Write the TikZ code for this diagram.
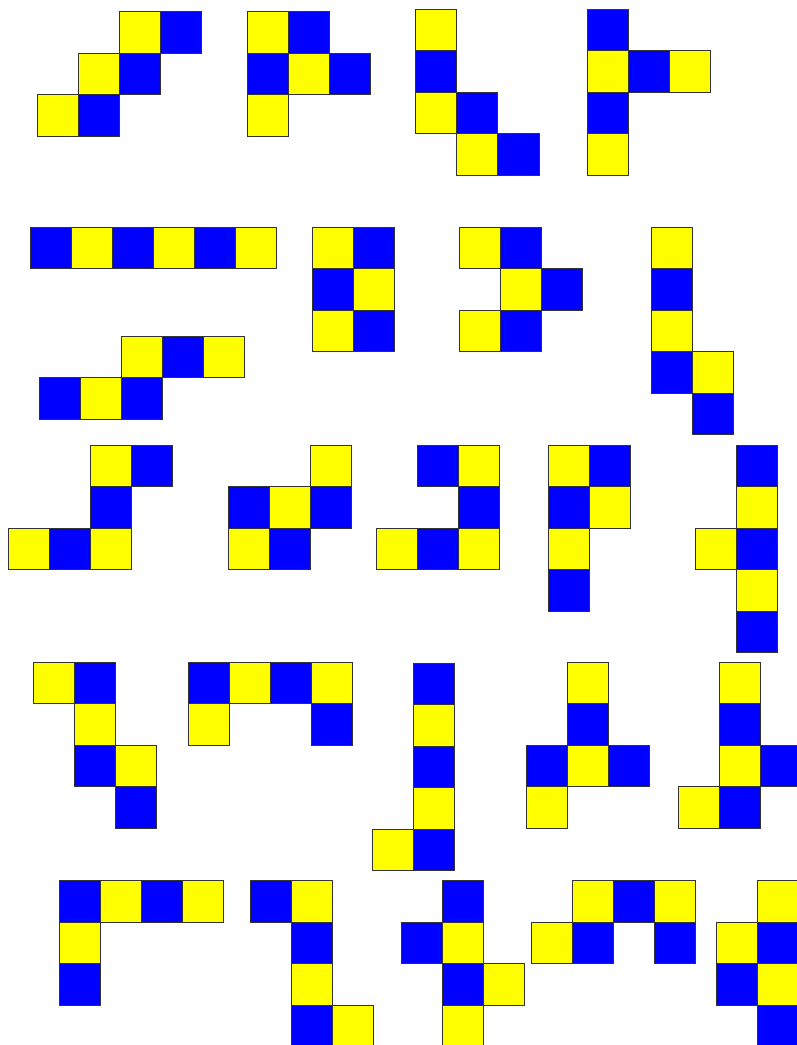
\documentclass[tikz,border=0pt]{standalone}
\usepackage{tikz}

\definecolor{yel}{RGB}{255,255,0}
\definecolor{blu}{RGB}{0,0,255}

% one net: origin x, origin y (px), list of col/row/colour
\newcommand\netshape[3]{%
  \foreach \cx/\cy/\cc in {#3} {
    \draw[sq, fill=\cc] ({#1+\cx*41.1},{#2+\cy*41.5}) rectangle ++(41.1,41.5);
  }%
}

\begin{document}
\begin{tikzpicture}[
  x=1pt, y=-1pt,
  sq/.style={draw=black!80, line width=1pt},
]
\useasboundingbox (0,0) rectangle (797,1045);
\clip (0,0) rectangle (797,1045);

% ---------- Row 1 ----------
\netshape{37.5}{11.7}{2/0/yel,3/0/blu,1/1/yel,2/1/blu,0/2/yel,1/2/blu}
\netshape{247.3}{11.7}{0/0/yel,1/0/blu,0/1/blu,1/1/yel,2/1/blu,0/2/yel}
\netshape{415.7}{9.3}{0/0/yel,0/1/blu,0/2/yel,1/2/blu,1/3/yel,2/3/blu}
\netshape{587.3}{9.3}{0/0/blu,0/1/yel,1/1/blu,2/1/yel,0/2/blu,0/3/yel}

% ---------- Row 2 ----------
\netshape{30}{227.3}{0/0/blu,1/0/yel,2/0/blu,3/0/yel,4/0/blu,5/0/yel}
\netshape{312.7}{227.3}{0/0/yel,1/0/blu,0/1/blu,1/1/yel,0/2/yel,1/2/blu}
\netshape{459.3}{227.3}{0/0/yel,1/0/blu,1/1/yel,2/1/blu,0/2/yel,1/2/blu}
\netshape{651.7}{227.3}{0/0/yel,0/1/blu,0/2/yel,0/3/blu,1/3/yel,1/4/blu}
\netshape{39.3}{336.3}{2/0/yel,3/0/blu,4/0/yel,0/1/blu,1/1/yel,2/1/blu}

% ---------- Row 3 ----------
\netshape{8}{445.3}{2/0/yel,3/0/blu,2/1/blu,0/2/yel,1/2/blu,2/2/yel}
\netshape{228.3}{445.3}{2/0/yel,0/1/blu,1/1/yel,2/1/blu,0/2/yel,1/2/blu}
\netshape{376}{445.3}{1/0/blu,2/0/yel,2/1/blu,0/2/yel,1/2/blu,2/2/yel}
\netshape{548.7}{445.3}{0/0/yel,1/0/blu,0/1/blu,1/1/yel,0/2/yel,0/3/blu}
\netshape{695.3}{445.3}{1/0/blu,1/1/yel,0/2/yel,1/2/blu,1/3/yel,1/4/blu}

% ---------- Row 4 ----------
\netshape{33}{662.3}{0/0/yel,1/0/blu,1/1/yel,1/2/blu,2/2/yel,2/3/blu}
\netshape{188.3}{662.3}{0/0/blu,1/0/yel,2/0/blu,3/0/yel,0/1/yel,3/1/blu}
\netshape{372.5}{663.3}{1/0/blu,1/1/yel,1/2/blu,1/3/yel,0/4/yel,1/4/blu}
\netshape{526}{662.3}{1/0/yel,1/1/blu,0/2/blu,1/2/yel,2/2/blu,0/3/yel}
\netshape{678.7}{662.3}{1/0/yel,1/1/blu,1/2/yel,2/2/blu,0/3/yel,1/3/blu}

% ---------- Row 5 ----------
\netshape{59}{880.7}{0/0/blu,1/0/yel,2/0/blu,3/0/yel,0/1/yel,0/2/blu}
\netshape{250.3}{880.7}{0/0/blu,1/0/yel,1/1/blu,1/2/yel,1/3/blu,2/3/yel}
\netshape{401.3}{880.7}{1/0/blu,0/1/blu,1/1/yel,1/2/blu,2/2/yel,1/3/yel}
\netshape{531.3}{880.7}{1/0/yel,2/0/blu,3/0/yel,0/1/yel,1/1/blu,3/1/blu}
\netshape{716.3}{880.7}{1/0/yel,0/1/yel,1/1/blu,0/2/blu,1/2/yel,1/3/blu}

\end{tikzpicture}
\end{document}
